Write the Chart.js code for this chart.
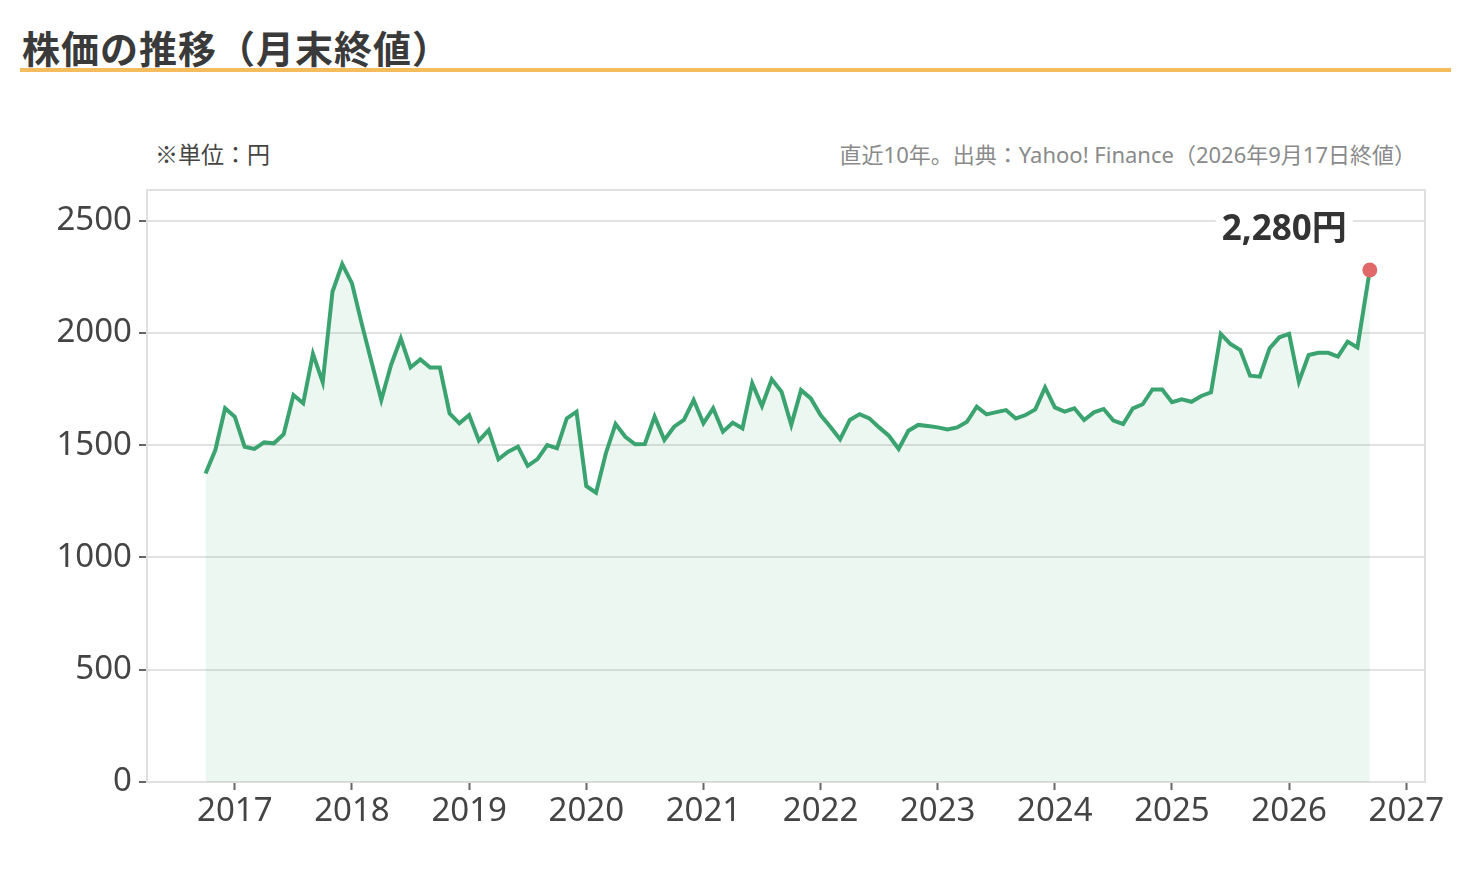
<!DOCTYPE html>
<html lang="ja">
<head>
    <meta charset="UTF-8" />
    <title>株価の推移（月末終値）</title>
    <script src="https://cdn.jsdelivr.net/npm/chart.js@4"></script>
    <style>
        html, body { margin: 0; padding: 0; background: #fff; }
        body { width: 1470px; height: 870px; position: relative; overflow: hidden;
               font-family: "Noto Sans", "Noto Sans CJK JP", sans-serif; }
        .title { position: absolute; left: 22px; top: 28px; margin: 0; font-size: 38px; line-height: 38px;
                 font-family: "Noto Sans CJK JP", sans-serif;
                 font-weight: 700; color: #3a3a3a; letter-spacing: 1px; }
        .title-bar { position: absolute; left: 20px; top: 68px; width: 1431px; height: 4px; background: #f4bc5c; }
        .unit { position: absolute; left: 155px; top: 141px; font-size: 23px; line-height: 24px; color: #444;
                font-family: "Noto Sans CJK JP", sans-serif; }
        .source { position: absolute; right: 54px; top: 142px; font-size: 22px; line-height: 24px; color: #8a8a8a; }
        .chart-box { position: absolute; left: 0; top: 0; width: 1470px; height: 870px; }
    </style>
</head>
<body>
    <h2 class="title">株価の推移（月末終値）</h2>
    <div class="title-bar"></div>
    <div class="unit">※単位：円</div>
    <div class="source">直近10年。出典：Yahoo! Finance（2026年9月17日終値）</div>

    <div class="chart-box">
        <canvas id="priceChart"></canvas>
    </div>

    <script>
        // monthly closes, first one is Oct 2016
        const firstYear = 2016;
        const firstMonth = 10;
        const close2016 = [1374, 1478, 1664];
        const close2017 = [1626, 1493, 1483, 1512, 1508, 1549, 1723, 1686, 1906, 1780, 2183, 2306];
        const close2018 = [2220, 2040, 1870, 1701, 1857, 1975, 1846, 1882, 1846, 1846, 1641, 1597];
        const close2019 = [1634, 1520, 1567, 1437, 1471, 1493, 1408, 1438, 1500, 1486, 1619, 1649];
        const close2020 = [1318, 1288, 1463, 1594, 1537, 1504, 1505, 1627, 1523, 1582, 1612, 1701];
        const close2021 = [1597, 1664, 1560, 1600, 1575, 1775, 1674, 1793, 1738, 1590, 1745, 1708];
        const close2022 = [1634, 1582, 1526, 1612, 1638, 1619, 1579, 1542, 1483, 1564, 1590, 1585];
        const close2023 = [1579, 1570, 1579, 1604, 1671, 1637, 1647, 1656, 1619, 1634, 1659, 1757];
        const close2024 = [1668, 1649, 1664, 1612, 1646, 1661, 1609, 1594, 1664, 1682, 1748, 1748];
        const close2025 = [1691, 1704, 1693, 1719, 1735, 1995, 1950, 1923, 1809, 1805, 1931, 1980];
        const close2026 = [1995, 1782, 1901, 1911, 1911, 1894, 1961, 1935];
        // latest close (2026-09-17)
        const latestDate = [2026, 9, 17];
        const latestClose = 2280;

        const yTicks = [0, 500, 1000, 1500, 2000, 2500];
        const xTickYears = [2017, 2018, 2019, 2020, 2021, 2022, 2023, 2024, 2025, 2026, 2027];

        // build {x: decimal year, y: price}
        const monthly = [].concat(close2016, close2017, close2018, close2019, close2020, close2021,
                                  close2022, close2023, close2024, close2025, close2026);
        const points = monthly.map((v, i) => {
            const m = firstMonth - 1 + i;
            return { x: firstYear + m / 12, y: v };
        });
        points.push({
            x: latestDate[0] + (latestDate[1] - 1) / 12 + (latestDate[2] - 1) / 60 / 12,
            y: latestClose
        });
        const lastIndex = points.length - 1;

        Chart.defaults.font.family = '"Noto Sans", "Noto Sans CJK JP", sans-serif';
        Chart.defaults.color = '#444';

        // grey frame around the plot area
        const frame = {
            id: 'frame',
            beforeDatasetsDraw(chart) {
                const a = chart.chartArea, c = chart.ctx;
                c.save();
                c.strokeStyle = '#e0e0e0';
                c.lineWidth = 2;
                c.strokeRect(a.left, a.top, a.right - a.left, a.bottom - a.top);
                c.restore();
            }
        };

        // "2,280円" label next to the last point
        const lastLabel = {
            id: 'lastLabel',
            afterDatasetsDraw(chart) {
                const p = chart.getDatasetMeta(0).data[lastIndex];
                const c = chart.ctx;
                const txt = latestClose.toLocaleString('en-US') + '円';
                c.save();
                c.font = 'bold 35px "Noto Sans", "Noto Sans CJK JP", sans-serif';
                const w = c.measureText(txt).width;
                const right = p.x - 23, cy = p.y - 40;
                c.fillStyle = '#fff';
                c.fillRect(right - w - 6, cy - 21, w + 12, 42);
                c.fillStyle = '#333';
                c.textAlign = 'right';
                c.textBaseline = 'middle';
                c.fillText(txt, right, cy);
                c.restore();
            }
        };

        new Chart(document.getElementById('priceChart').getContext('2d'), {
            type: 'line',
            data: {
                datasets: [{
                    data: points,
                    borderColor: '#3ba370',
                    borderWidth: 4,
                    backgroundColor: 'rgba(59, 163, 112, 0.09)',
                    fill: 'origin',
                    tension: 0,
                    pointRadius: ctx => ctx.dataIndex === lastIndex ? 7.5 : 0,
                    pointHoverRadius: 0,
                    pointBackgroundColor: '#e06868',
                    pointBorderColor: '#e06868',
                    pointBorderWidth: 0
                }]
            },
            options: {
                responsive: true,
                maintainAspectRatio: false,
                animation: false,
                layout: { padding: { top: 190, left: 0, right: 45, bottom: 28 } },
                plugins: { legend: { display: false }, tooltip: { enabled: false } },
                scales: {
                    x: {
                        type: 'linear',
                        min: 2016.25,
                        max: 2027.16,
                        afterBuildTicks: s => { s.ticks = xTickYears.map(v => ({ value: v })); },
                        afterFit: s => { s.height = 60; },
                        border: { display: false },
                        grid: { drawOnChartArea: false, drawTicks: true, tickLength: 8, tickColor: '#666', tickWidth: 2 },
                        ticks: { font: { size: 33 }, color: '#444', padding: 2, callback: v => String(v) }
                    },
                    y: {
                        min: 0,
                        max: 2636,
                        afterBuildTicks: s => { s.ticks = yTicks.map(v => ({ value: v })); },
                        afterFit: s => { s.width = 147; },
                        border: { display: false },
                        grid: { color: '#e2e2e2', lineWidth: 2, tickLength: 8, tickColor: '#666', tickWidth: 2 },
                        ticks: { font: { size: 33 }, color: '#444', padding: 7, callback: v => String(v) }
                    }
                }
            },
            plugins: [frame, lastLabel]
        });
    </script>
</body>
</html>
